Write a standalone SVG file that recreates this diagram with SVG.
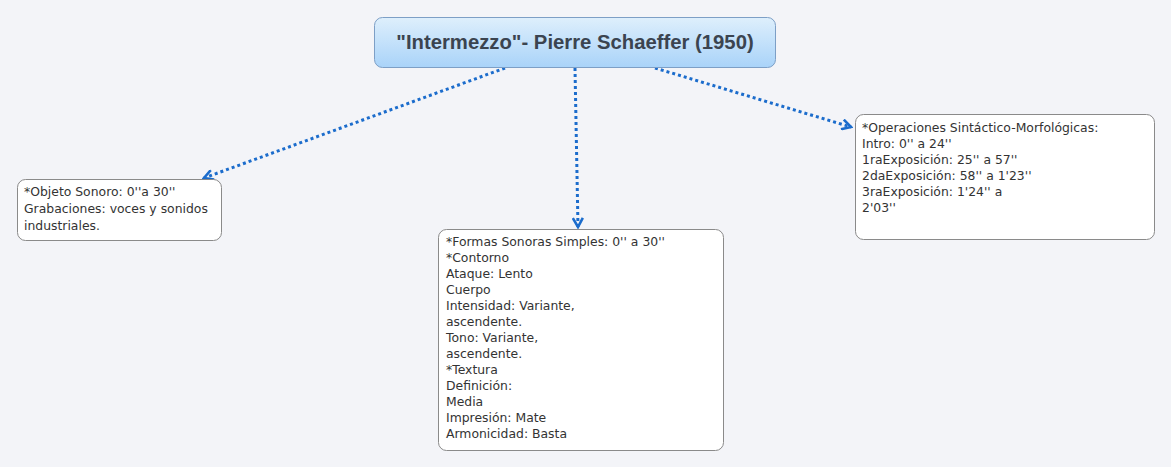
<svg xmlns="http://www.w3.org/2000/svg" width="1171" height="467" viewBox="0 0 1171 467">
<defs>
<linearGradient id="g" x1="0" y1="0" x2="0" y2="1">
<stop offset="0" stop-color="#deeffc"/>
<stop offset="1" stop-color="#a9d3f9"/>
</linearGradient>
<marker id="arr" viewBox="0 0 12 12" refX="10" refY="6" markerWidth="12" markerHeight="12" markerUnits="userSpaceOnUse" orient="auto">
<path d="M1,1 L10,6 L1,11" fill="none" stroke="#1b6ccc" stroke-width="2.6"/>
</marker>
</defs>
<style>
.box{fill:#ffffff;stroke:#8a8a8a;stroke-width:1}
.t{font-family:"DejaVu Sans",sans-serif;font-size:12.4px;fill:#333333}
.title{font-family:"Liberation Sans",sans-serif;font-weight:bold;font-size:20.3px;fill:#3b4450}
.c{fill:none;stroke:#1b6ccc;stroke-width:3;stroke-dasharray:3 3}
</style>
<rect width="1171" height="467" fill="#f3f4f8"/>
<g id="connectors">
<line class="c" x1="505" y1="68" x2="204" y2="178" marker-end="url(#arr)"/>
<line class="c" x1="575" y1="68" x2="578" y2="227" marker-end="url(#arr)"/>
<line class="c" x1="655" y1="68" x2="851" y2="127" marker-end="url(#arr)"/>
</g>
<g id="root">
<rect x="374.5" y="17.5" width="401" height="50" rx="8" fill="url(#g)" stroke="#7d9fc6"/>
<text class="title" x="575" y="49" text-anchor="middle">"Intermezzo"- Pierre Schaeffer (1950)</text>
</g>
<g id="objeto">
<rect class="box" x="17.5" y="179.5" width="204" height="61" rx="8"/>
<text class="t" x="24"><tspan x="24" y="196">*Objeto Sonoro: 0''a 30''</tspan><tspan x="24" y="213">Grabaciones: voces y sonidos</tspan><tspan x="24" y="230">industriales.</tspan></text>
</g>
<g id="formas">
<rect class="box" x="438.5" y="229.5" width="285" height="221" rx="8"/>
<text class="t"><tspan x="446" y="246">*Formas Sonoras Simples: 0'' a 30''</tspan><tspan x="446" y="262">*Contorno</tspan><tspan x="446" y="278">Ataque: Lento</tspan><tspan x="446" y="294">Cuerpo</tspan><tspan x="446" y="310">Intensidad: Variante,</tspan><tspan x="446" y="326">ascendente.</tspan><tspan x="446" y="342">Tono: Variante,</tspan><tspan x="446" y="358">ascendente.</tspan><tspan x="446" y="374">*Textura</tspan><tspan x="446" y="390">Definición:</tspan><tspan x="446" y="406">Media</tspan><tspan x="446" y="422">Impresión: Mate</tspan><tspan x="446" y="438">Armonicidad: Basta</tspan></text>
</g>
<g id="operaciones">
<rect class="box" x="855.5" y="114.5" width="299" height="125" rx="8"/>
<text class="t"><tspan x="862" y="132">*Operaciones Sintáctico-Morfológicas:</tspan><tspan x="862" y="148">Intro: 0'' a 24''</tspan><tspan x="862" y="164">1raExposición: 25'' a 57''</tspan><tspan x="862" y="180">2daExposición: 58'' a 1'23''</tspan><tspan x="862" y="196">3raExposición: 1'24'' a</tspan><tspan x="862" y="212">2'03''</tspan></text>
</g>
</svg>
